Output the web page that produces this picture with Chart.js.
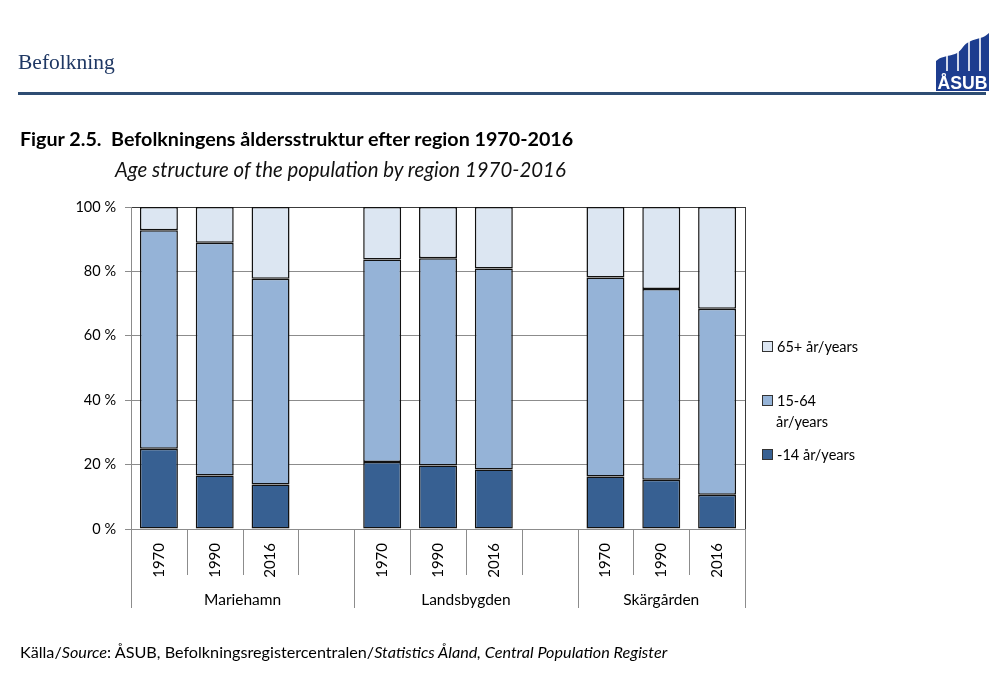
<!DOCTYPE html>
<html>
<head>
<meta charset="utf-8">
<script src="https://cdn.jsdelivr.net/npm/chart.js@4"></script>
<style>
  body { margin: 0; background: #fff; width: 1000px; height: 685px; position: relative; overflow: hidden; font-family: Lato, "Open Sans", sans-serif; color: #000; }
  #chart { position: absolute; left: 0; top: 0; }
  .abs { position: absolute; white-space: nowrap; }
  #header { left: 18px; top: 50px; font-family: "Liberation Serif", serif; font-size: 21.5px; color: #1f3864; }
  #rule { left: 18px; top: 92px; width: 968px; height: 3px; background: #2e4d73; }
  #logo { left: 933px; top: 31px; }
  #title { left: 20px; top: 127px; font-size: 19.7px; font-weight: bold; }
  #subtitle { left: 115px; top: 157px; font-size: 20.4px; font-style: italic; color: #111; }
  #source { left: 20px; top: 642px; font-size: 16.2px; }
  .leg { position: absolute; left: 762px; font-size: 14.5px; line-height: 21px; }
  .leg i { display: inline-block; width: 9px; height: 9px; border: 1px solid #333; margin-right: 4px; vertical-align: 0px; }
</style>
</head>
<body>
<canvas id="chart" width="1000" height="685"></canvas>

<div id="header" class="abs">Befolkning</div>
<div id="rule" class="abs"></div>
<svg id="logo" class="abs" width="58" height="60" viewBox="0 0 58 60">
  <path d="M3 60 L3 30 C12 22 22 28 30 16 C38 6 48 10 56 2 L56 60 Z" fill="#1d3d8f"/>
  <g stroke="#fff" stroke-width="1.6">
    <line x1="14" y1="0" x2="14" y2="40"/>
    <line x1="25" y1="0" x2="25" y2="40"/>
    <line x1="36" y1="0" x2="36" y2="40"/>
    <line x1="47" y1="0" x2="47" y2="40"/>
  </g>
  <text x="29.5" y="58" text-anchor="middle" font-family="Liberation Sans Narrow, Liberation Sans, sans-serif" font-weight="bold" font-size="19" fill="#fff" textLength="50" lengthAdjust="spacingAndGlyphs">ÅSUB</text>
</svg>

<div id="title" class="abs">Figur 2.5.&nbsp; Befolkningens åldersstruktur efter region 1970-2016</div>
<div id="subtitle" class="abs">Age structure of the population by region 1970-2016</div>

<div class="leg" style="top:336px"><i style="background:#dce6f2"></i>65+ år/years</div>
<div class="leg" style="top:390px"><i style="background:#95b3d7"></i>15-64<br><span style="padding-left:14px">år/years</span></div>
<div class="leg" style="top:444px"><i style="background:#376092"></i>-14 år/years</div>

<div id="source" class="abs">Källa/<i>Source</i>: ÅSUB, Befolkningsregistercentralen/<i>Statistics Åland, Central Population Register</i></div>

<script>
// Kategorier: tre år per region, tom plats mellan regionerna
const categories = ['1970', '1990', '2016', '', '1970', '1990', '2016', '', '1970', '1990', '2016'];
const regions = ['Mariehamn', 'Landsbygden', 'Skärgården'];

// Andel i procent per åldersgrupp
const age0to14 = [24.9, 16.6, 13.8, null, 20.8, 19.7, 18.5, null, 16.3, 15.3, 10.6];
const age15to64 = [67.9, 72.3, 63.9, null, 62.9, 64.4, 62.4, null, 61.8, 59.2, 57.8];
const age65plus = [7.2, 11.1, 22.3, null, 16.3, 15.9, 19.1, null, 21.9, 25.5, 31.6];

const yTicks = [0, 20, 40, 60, 80, 100];

const GRID = '#8c8c8c';
const DARK = '#3a3a3a';

// Linjer under x-axeln och regionnamn
const groupAxis = {
    id: 'groupAxis',
    afterDraw(chart) {
        const ctx = chart.ctx;
        const area = chart.chartArea;
        const xs = chart.scales.x;
        const n = categories.length;
        const half = (xs.getPixelForValue(1) - xs.getPixelForValue(0)) / 2;

        const edges = [];
        ctx.save();
        ctx.strokeStyle = GRID;
        ctx.lineWidth = 1;
        for (let i = 0; i <= n; i++) {
            const x = i === n ? area.right : xs.getPixelForValue(i) - half;
            const isGroupEdge = i === 0 || i === n || categories[i - 1] === '';
            if (isGroupEdge) edges.push(x);
            ctx.beginPath();
            ctx.moveTo(Math.round(x) + 0.5, area.bottom);
            ctx.lineTo(Math.round(x) + 0.5, isGroupEdge ? 608 : 575);
            ctx.stroke();
        }

        // höger ram
        ctx.strokeStyle = DARK;
        ctx.beginPath();
        ctx.moveTo(Math.round(area.right) + 0.5, area.top);
        ctx.lineTo(Math.round(area.right) + 0.5, area.bottom);
        ctx.stroke();

        ctx.fillStyle = '#000';
        ctx.font = '15.5px Lato, "Open Sans", sans-serif';
        ctx.textAlign = 'center';
        ctx.textBaseline = 'middle';
        regions.forEach((name, k) => {
            ctx.fillText(name, (edges[k] + edges[k + 1]) / 2, 600);
        });
        ctx.restore();
    }
};

const barStyle = { borderColor: '#111', borderWidth: 1.5, borderSkipped: false, barPercentage: 0.68, categoryPercentage: 1 };

new Chart(document.getElementById('chart'), {
    type: 'bar',
    data: {
        labels: categories,
        datasets: [
            Object.assign({ label: '-14 år/years', data: age0to14, backgroundColor: '#376092' }, barStyle),
            Object.assign({ label: '15-64 år/years', data: age15to64, backgroundColor: '#95b3d7' }, barStyle),
            Object.assign({ label: '65+ år/years', data: age65plus, backgroundColor: '#dce6f2' }, barStyle)
        ]
    },
    options: {
        responsive: false,
        animation: false,
        layout: { padding: { left: 0, top: 207, right: 255, bottom: 76 } },
        plugins: {
            legend: { display: false },
            tooltip: { enabled: false }
        },
        scales: {
            x: {
                stacked: true,
                afterFit: (scale) => { scale.height = 80; },
                grid: { display: false, drawTicks: false },
                border: { display: true, color: GRID, width: 1 },
                ticks: {
                    minRotation: 90,
                    maxRotation: 90,
                    autoSkip: false,
                    padding: 14,
                    color: '#000',
                    font: { family: 'Lato, "Open Sans", sans-serif', size: 15 }
                }
            },
            y: {
                stacked: true,
                min: 0,
                max: 100,
                afterFit: (scale) => { scale.width = 131; },
                afterBuildTicks: (scale) => { scale.ticks = yTicks.map(v => ({ value: v })); },
                grid: {
                    color: (c) => (c.tick && c.tick.value === 100 ? DARK : GRID),
                    tickColor: GRID,
                    tickLength: 6,
                    lineWidth: 1
                },
                border: { display: true, color: GRID, width: 1 },
                ticks: {
                    padding: 9,
                    color: '#000',
                    font: { family: 'Lato, "Open Sans", sans-serif', size: 14.5 },
                    callback: (v) => v + ' %'
                }
            }
        }
    },
    plugins: [groupAxis]
});
</script>
</body>
</html>
